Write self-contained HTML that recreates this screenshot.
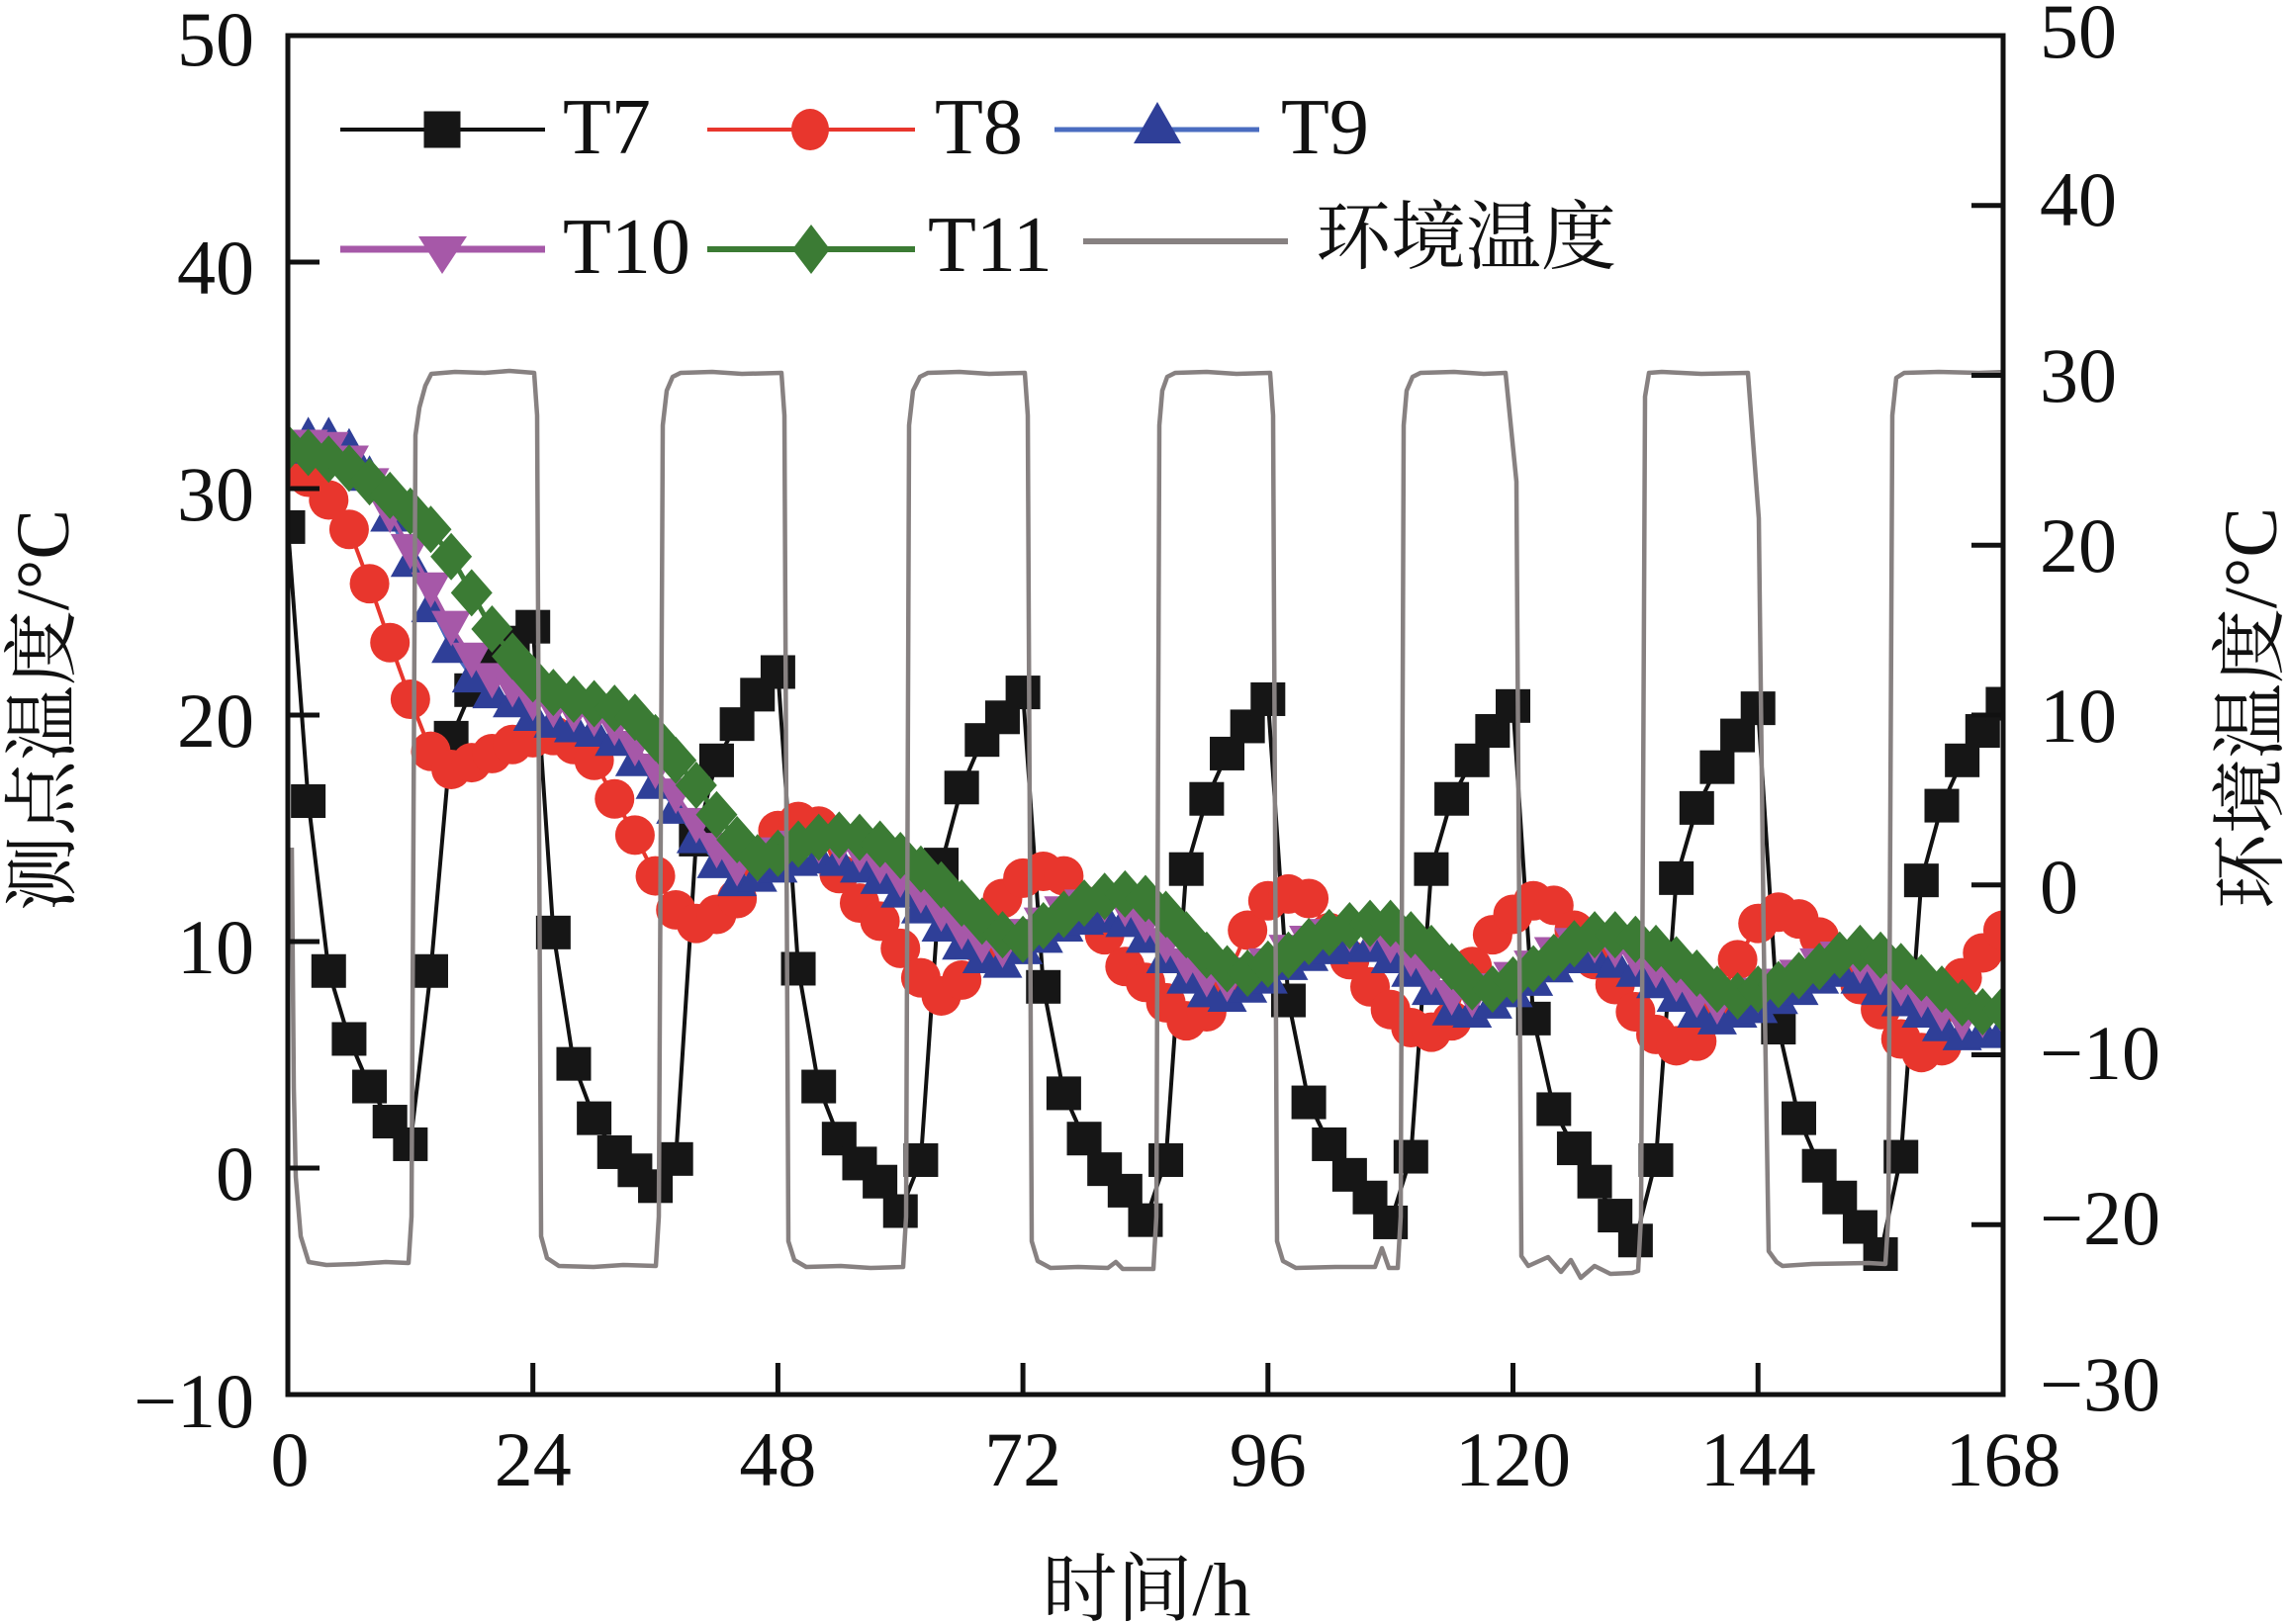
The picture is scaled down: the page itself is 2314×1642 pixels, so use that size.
<!DOCTYPE html>
<html>
<head>
<meta charset="utf-8">
<style>
html,body{margin:0;padding:0;background:#fff}
svg{display:block}
text{font-family:"Liberation Serif","Noto Serif CJK SC",serif;fill:#111}
</style>
</head>
<body>
<svg xmlns="http://www.w3.org/2000/svg" width="2314" height="1642" viewBox="0 0 2314 1642">
<rect width="2314" height="1642" fill="#fff"/>
<defs>
  <clipPath id="pc"><rect x="291" y="36" width="1734" height="1374"/></clipPath>
  <marker id="mSq" markerUnits="userSpaceOnUse" markerWidth="1" markerHeight="1" refX="0" refY="0" style="overflow:visible">
    <rect x="-1.696" y="-0.742" width="3.391" height="1.485" fill="#161616"/>
  </marker>
  <marker id="mCi" markerUnits="userSpaceOnUse" markerWidth="1" markerHeight="1" refX="0" refY="0" style="overflow:visible">
    <ellipse cx="0" cy="0" rx="1.938" ry="0.873" fill="#e8362d"/>
  </marker>
  <marker id="mUp" markerUnits="userSpaceOnUse" markerWidth="1" markerHeight="1" refX="0" refY="0" style="overflow:visible">
    <polygon points="0,0.873 -1.938,-0.699 1.938,-0.699" fill="#2f3f98"/>
  </marker>
  <marker id="mDn" markerUnits="userSpaceOnUse" markerWidth="1" markerHeight="1" refX="0" refY="0" style="overflow:visible">
    <polygon points="0,-0.873 -1.938,0.699 1.938,0.699" fill="#a658a8"/>
  </marker>
  <marker id="mDi" markerUnits="userSpaceOnUse" markerWidth="1" markerHeight="1" refX="0" refY="0" style="overflow:visible">
    <polygon points="0,1.048 2.035,0 0,-1.048 -2.035,0" fill="#3b7b34"/>
  </marker>
</defs>

<g clip-path="url(#pc)">
  <g transform="matrix(10.321 0 0 -22.9 291 1181)" fill="none">
    <!-- T7 -->
    <polyline vector-effect="non-scaling-stroke" stroke="#111" stroke-width="4" marker-start="url(#mSq)" marker-mid="url(#mSq)" marker-end="url(#mSq)"
      points="0,28.3 2,16.2 4,8.7 6,5.7 8,3.6 10,2.05 12,1.05 14,8.7 16,19 18,21.1 20,22.3 22,23.2 24,23.9 26,10.4 28,4.6 30,2.2 32,0.7 34,-0.1 36,-0.8 38,0.4 40,14.5 42,18 44,19.6 46,20.9 48,21.9 50,8.8 52,3.6 54,1.3 56,0.2 58,-0.6 60,-1.9 62,0.35 64,13.4 66,16.8 68,18.9 70,19.9 72,21 74,8 76,3.3 78,1.3 80,-0.05 82,-1 84,-2.3 86,0.35 88,13.2 90,16.3 92,18.3 94,19.5 96,20.7 98,7.4 100,2.9 102,1.05 104,-0.3 106,-1.3 108,-2.4 110,0.5 112,13.2 114,16.3 116,18 118,19.3 120,20.4 122,6.6 124,2.6 126,0.87 128,-0.6 130,-2.1 132,-3.2 134,0.35 136,12.8 138,15.9 140,17.7 142,19.1 144,20.3 146,6.2 148,2.2 150,0.1 152,-1.3 154,-2.6 156,-3.8 158,0.5 160,12.7 162,16 164,18 166,19.3 168,20.5"/>
    <!-- T8 -->
    <polyline vector-effect="non-scaling-stroke" stroke="#e8362d" stroke-width="4" marker-start="url(#mCi)" marker-mid="url(#mCi)" marker-end="url(#mCi)"
      points="0,31.2 2,30.5 4,29.5 6,28.2 8,25.8 10,23.2 12,20.7 14,18.4 16,17.6 18,17.9 20,18.3 22,18.7 24,19 26,19.1 28,18.7 30,18 32,16.3 34,14.7 36,12.9 38,11.4 40,10.8 42,11.2 44,11.9 46,13.6 48,14.9 50,15.3 52,15.1 54,13 56,11.7 58,10.9 60,9.7 62,8.4 64,7.6 66,8.3 68,9.8 70,11.9 72,12.8 74,13.1 76,12.9 78,11.6 80,10.3 82,8.9 84,8.2 86,7.3 88,6.5 90,6.9 92,8.4 94,10.5 96,11.8 98,12.1 100,11.9 102,10.4 104,9.2 106,8 108,7 110,6.2 112,6 114,6.5 116,8.9 118,10.3 120,11.2 122,11.8 124,11.6 126,10.5 128,9.2 130,8.1 132,6.9 134,5.9 136,5.4 138,5.6 140,7.2 142,9.2 144,10.8 146,11.3 148,11 150,10.2 152,8.9 154,8.1 156,7 158,5.7 160,5.1 162,5.4 164,8.4 166,9.5 168,10.5"/>
    <!-- T9 -->
    <polyline vector-effect="non-scaling-stroke" stroke="#4a6cc0" stroke-width="4" marker-start="url(#mUp)" marker-mid="url(#mUp)" marker-end="url(#mUp)"
      points="0,31.8 2,32.3 4,32.3 6,31.8 8,30.6 10,28.8 12,26.8 14,24.8 16,23 18,21.7 20,21 22,20.6 24,20 26,19.7 28,19.5 30,19.3 32,18.9 34,18 36,17 38,15.9 40,14.6 42,13.5 44,12.7 46,12.9 48,13.3 50,13.6 52,13.7 54,13.6 56,13.3 58,12.8 60,12.2 62,11.5 64,10.7 66,9.9 68,9.3 70,9.1 72,9.7 74,10.2 76,10.7 78,11 80,11.1 82,10.9 84,10.2 86,9.3 88,8.4 90,7.8 92,7.6 94,8 96,8.4 98,9 100,9.4 102,9.7 104,9.8 106,9.8 108,9.3 110,8.7 112,7.9 114,7 116,6.9 118,7.3 120,7.8 122,8.3 124,8.9 126,9.3 128,9.3 130,9.1 132,8.7 134,8.2 136,7.6 138,6.9 140,6.6 142,6.9 144,7.1 146,7.5 148,7.9 150,8.4 152,8.7 154,8.4 156,7.9 158,7.4 160,6.9 162,6.3 164,5.9 166,6 168,6.1"/>
    <!-- T10 -->
    <polyline vector-effect="non-scaling-stroke" stroke="#a658a8" stroke-width="4" marker-start="url(#mDn)" marker-mid="url(#mDn)" marker-end="url(#mDn)"
      points="0,31.6 2,31.9 4,31.8 6,31.2 8,30.2 10,28.9 12,27.3 14,25.6 16,23.9 18,22.5 20,21.6 22,21.2 24,20.6 26,20.3 28,20.1 30,19.9 32,19.5 34,18.6 36,17.6 38,16.5 40,15.2 42,14.1 44,13.3 46,13.5 48,13.9 50,14.2 52,14.3 54,14.2 56,13.9 58,13.4 60,12.8 62,12.1 64,11.3 66,10.5 68,9.9 70,9.7 72,10.3 74,10.8 76,11.3 78,11.6 80,11.7 82,11.5 84,10.8 86,9.9 88,9 90,8.4 92,8.2 94,8.6 96,9 98,9.6 100,10 102,10.3 104,10.4 106,10.4 108,9.9 110,9.3 112,8.5 114,7.6 116,7.5 118,7.9 120,8.4 122,8.9 124,9.5 126,9.9 128,9.9 130,9.7 132,9.3 134,8.8 136,8.2 138,7.5 140,7.2 142,7.5 144,7.7 146,8.1 148,8.5 150,9 152,9.3 154,9 156,8.5 158,8 160,7.5 162,6.9 164,6.5 166,6.6 168,6.7"/>
    <!-- T11 -->
    <polyline vector-effect="non-scaling-stroke" stroke="#3b7b34" stroke-width="5" marker-start="url(#mDi)" marker-mid="url(#mDi)" marker-end="url(#mDi)"
      points="0,31.8 2,31.6 4,31.3 6,30.9 8,30.3 10,29.7 12,29 14,28.2 16,27 18,25.4 20,23.8 22,22.6 24,21.6 26,21 28,20.7 30,20.5 32,20.3 34,19.9 36,19 38,18 40,16.9 42,15.6 44,14.5 46,13.7 48,13.9 50,14.3 52,14.6 54,14.7 56,14.6 58,14.3 60,13.8 62,13.2 64,12.5 66,11.7 68,10.9 70,10.3 72,10.1 74,10.7 76,11.2 78,11.7 80,12 82,12.1 84,11.9 86,11.2 88,10.3 90,9.4 92,8.8 94,8.6 96,9 98,9.4 100,10 102,10.4 104,10.7 106,10.8 108,10.8 110,10.3 112,9.7 114,8.9 116,8 118,7.9 120,8.3 122,8.8 124,9.3 126,9.9 128,10.3 130,10.3 132,10.1 134,9.7 136,9.2 138,8.6 140,7.9 142,7.6 144,7.9 146,8.1 148,8.5 150,8.9 152,9.4 154,9.7 156,9.4 158,8.9 160,8.4 162,7.9 164,7.3 166,6.9 168,7"/>
  </g>
  <!-- ambient temperature (right axis) -->
  <path fill="none" stroke="#878181" stroke-width="4.5" stroke-linejoin="round"
    d="M295,857 L297,1100 L299,1190 L304,1250 L312,1276 L330,1279 L360,1278 L390,1276 L413,1277
       L416,1230 L420,440 L424,412 L430,390 L436,378 L460,376 L490,377 L515,375 L540,377
       L543,420 L547,1250 L553,1272 L565,1280 L600,1281 L630,1279 L663,1280
       L666,1230 L670,430 L674,395 L680,381 L688,377 L720,376 L750,378 L790,377
       L793,420 L797,1255 L803,1274 L815,1281 L850,1280 L880,1282 L913,1281
       L916,1230 L919,430 L923,395 L930,381 L938,377 L970,376 L1000,378 L1036,377
       L1039,420 L1043,1255 L1049,1275 L1062,1282 L1090,1281 L1120,1282 L1128,1276 L1135,1283 L1166,1283
       L1169,1230 L1172,430 L1175,395 L1180,381 L1188,377 L1220,376 L1250,378 L1284,377
       L1287,420 L1291,1255 L1297,1275 L1310,1282 L1350,1281 L1390,1281 L1397,1262 L1404,1282 L1413,1282
       L1416,1230 L1419,430 L1422,395 L1428,381 L1436,377 L1470,376 L1500,378 L1522,377
       L1533,487 L1538,1270 L1545,1280 L1565,1271 L1578,1286 L1588,1274 L1598,1292 L1612,1280 L1628,1288 L1650,1287 L1656,1285
       L1659,1230 L1663,401 L1667,377 L1680,376 L1720,378 L1767,377
       L1778,524 L1783,952 L1788,1265 L1796,1276 L1802,1280 L1832,1278 L1889,1277 L1906,1278
       L1909,1230 L1913,420 L1917,382 L1925,377 L1960,376 L2000,377 L2030,376"/>
</g>

<!-- frame -->
<rect x="291" y="36" width="1734" height="1374" fill="none" stroke="#111" stroke-width="5"/>
<!-- ticks -->
<g stroke="#111" stroke-width="5">
  <line x1="291" y1="265" x2="323" y2="265"/>
  <line x1="291" y1="494" x2="323" y2="494"/>
  <line x1="291" y1="723" x2="323" y2="723"/>
  <line x1="291" y1="952" x2="323" y2="952"/>
  <line x1="291" y1="1181" x2="323" y2="1181"/>
  <line x1="2025" y1="207.75" x2="1993" y2="207.75"/>
  <line x1="2025" y1="379.5" x2="1993" y2="379.5"/>
  <line x1="2025" y1="551.25" x2="1993" y2="551.25"/>
  <line x1="2025" y1="723" x2="1993" y2="723"/>
  <line x1="2025" y1="894.75" x2="1993" y2="894.75"/>
  <line x1="2025" y1="1066.5" x2="1993" y2="1066.5"/>
  <line x1="2025" y1="1238.25" x2="1993" y2="1238.25"/>
  <line x1="538.7" y1="1410" x2="538.7" y2="1378"/>
  <line x1="786.4" y1="1410" x2="786.4" y2="1378"/>
  <line x1="1034.1" y1="1410" x2="1034.1" y2="1378"/>
  <line x1="1281.8" y1="1410" x2="1281.8" y2="1378"/>
  <line x1="1529.5" y1="1410" x2="1529.5" y2="1378"/>
  <line x1="1777.2" y1="1410" x2="1777.2" y2="1378"/>
</g>

<!-- left tick labels -->
<g font-size="78" text-anchor="end">
  <text x="257" y="66">50</text>
  <text x="257" y="297">40</text>
  <text x="257" y="526">30</text>
  <text x="257" y="755">20</text>
  <text x="257" y="984">10</text>
  <text x="257" y="1213">0</text>
  <text x="257" y="1443">−10</text>
</g>
<!-- right tick labels -->
<g font-size="78" text-anchor="start">
  <text x="2062" y="58">50</text>
  <text x="2062" y="228">40</text>
  <text x="2062" y="406">30</text>
  <text x="2062" y="578">20</text>
  <text x="2062" y="750">10</text>
  <text x="2062" y="923">0</text>
  <text x="2062" y="1091">−10</text>
  <text x="2062" y="1258">−20</text>
  <text x="2062" y="1426">−30</text>
</g>
<!-- bottom tick labels -->
<g font-size="78" text-anchor="middle">
  <text x="293" y="1502">0</text>
  <text x="538.7" y="1502">24</text>
  <text x="786.4" y="1502">48</text>
  <text x="1034.1" y="1502">72</text>
  <text x="1281.8" y="1502">96</text>
  <text x="1529.5" y="1502">120</text>
  <text x="1777.2" y="1502">144</text>
  <text x="2025" y="1502">168</text>
</g>

<!-- axis titles -->
<text font-size="76" text-anchor="middle" transform="translate(69,718) rotate(-90)">测点温度/°C</text>
<text font-size="76" text-anchor="middle" transform="translate(2301,716) rotate(-90)">环境温度/°C</text>
<text font-size="76" text-anchor="middle" x="1159" y="1633">时间/h</text>

<!-- legend -->
<g>
  <line x1="344" y1="131" x2="551" y2="131" stroke="#111" stroke-width="4"/>
  <rect x="428.5" y="112.5" width="37" height="37" fill="#161616"/>
  <text x="569" y="155" font-size="80">T7</text>

  <line x1="715" y1="131" x2="925" y2="131" stroke="#e8362d" stroke-width="4"/>
  <ellipse cx="819" cy="131" rx="19" ry="21" fill="#e8362d"/>
  <text x="945" y="155" font-size="80">T8</text>

  <line x1="1066" y1="131" x2="1273" y2="131" stroke="#4a6cc0" stroke-width="5"/>
  <polygon points="1170,103 1194,145 1146,145" fill="#2f3f98"/>
  <text x="1295" y="155" font-size="80">T9</text>

  <line x1="344" y1="252" x2="551" y2="252" stroke="#a658a8" stroke-width="7"/>
  <polygon points="423,239 472,239 447,277" fill="#a658a8"/>
  <text x="569" y="276" font-size="80">T10</text>

  <line x1="715" y1="252" x2="925" y2="252" stroke="#3b7b34" stroke-width="6"/>
  <polygon points="820,227 839,252 820,277 801,252" fill="#3b7b34"/>
  <text x="938" y="274" font-size="80">T11</text>

  <line x1="1095" y1="244" x2="1302" y2="244" stroke="#878181" stroke-width="6"/>
  <text x="1330" y="266" font-size="76">环境温度</text>
</g>
</svg>
</body>
</html>
